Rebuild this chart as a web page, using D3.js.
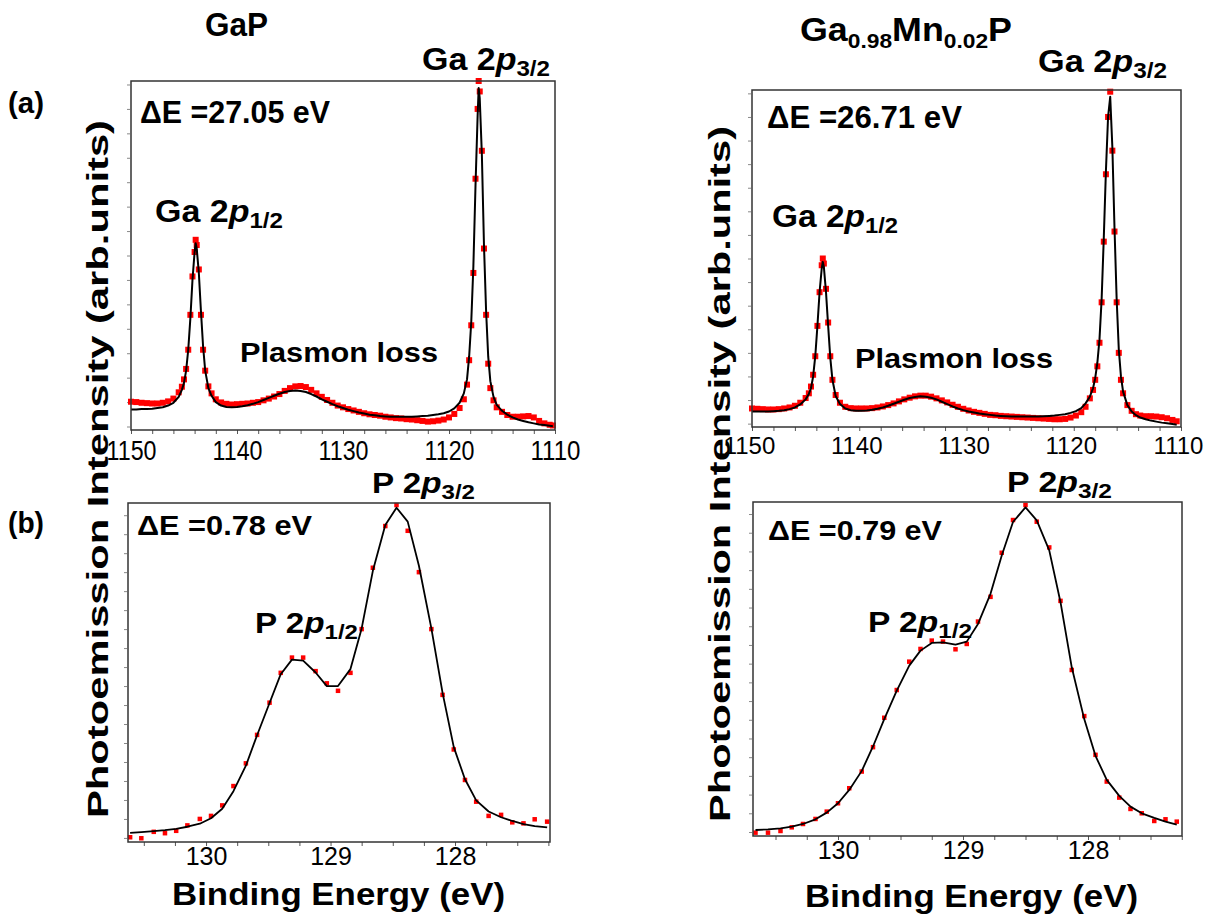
<!DOCTYPE html>
<html><head><meta charset="utf-8">
<script src="https://cdn.jsdelivr.net/npm/d3@7"></script>
<style>body{margin:0;background:#fff;} text{font-family:"Liberation Sans",Arial,sans-serif;}</style>
</head><body>
<svg id="c" width="1207" height="917"></svg>
<script>
// ---------- DATA ----------
// Ga 2p region, GaP (left)
const gaEL = [1150,1149.5,1149,1148.5,1148,1147.5,1147,1146.5,1146,
  1145.5,1145.2,1145.0,1144.8,1144.6,1144.4,1144.2,1144.0,1143.9,1143.8,1143.6,1143.4,1143.2,1143.0,1142.7,1142.4,1142.0,
  1141.5,1141,1140.5,1140,1139.5,1139,1138.5,1138,1137.5,1137,1136.5,1136,1135.5,1135,1134.5,1134,1133.5,1133,1132.5,1132,
  1131.5,1131,1130.5,1130,1129.5,1129,1128.5,1128,1127.5,1127,1126.5,1126,1125.5,1125,1124.5,1124,1123.5,1123,1122.5,1122,
  1121.5,1121,1120.5,1120,1119.5,
  1119.0,1118.6,1118.3,1118.1,1117.9,1117.7,1117.5,1117.3,1117.2,1117.1,1116.9,1116.7,1116.5,1116.3,1116.1,1115.8,1115.5,1115.0,
  1114.5,1114,1113.5,1113,1112.5,1112,1111.5,1111,1110.5,1110.2];
const gaDataL = [8.1,8.0,7.8,7.7,7.6,7.6,7.8,8.2,9.0,
  10.8,12.4,14.5,17.5,23,33,44,51,54.5,53,46,33,23,17,12.5,10.5,8.8,
  7.9,7.5,7.3,7.4,7.5,7.6,7.8,8.0,8.5,9.0,9.6,10.3,11.2,12.0,12.5,12.6,12.3,11.5,10.5,9.5,
  8.6,7.8,7.0,6.5,6.0,5.6,5.2,4.8,4.5,4.3,4.1,3.8,3.6,3.4,3.3,3.1,3.0,2.8,2.6,2.4,
  2.5,2.7,3.0,3.6,4.6,
  6.3,8.8,13.0,20,30,45,72,92,100,97,80,52,33,19,12,8.5,6.5,5.2,
  4.3,3.8,3.8,3.9,4.0,3.6,2.6,1.9,1.5,1.3];
const gaFitL = [5.9,5.9,6.0,6.0,6.1,6.3,6.5,7.0,7.8,
  9.5,11.5,13.5,17,23,32,43,51,53.5,52,45,34,24,17,12,9.8,8.0,
  7.0,6.6,6.5,6.6,6.8,7.1,7.5,8.0,8.6,9.2,9.8,10.4,10.9,11.2,11.3,11.2,10.9,10.3,9.6,8.8,
  8.1,7.4,6.8,6.3,5.8,5.4,5.0,4.7,4.4,4.2,4.0,3.9,3.8,3.8,3.8,3.8,3.8,3.9,4.0,4.1,
  4.3,4.5,4.8,5.3,6.2,
  7.8,10.5,14.5,21,31,47,70,90,98,95,79,53,34,21,14,9.5,7.2,5.5,
  4.4,3.6,3.0,2.6,2.2,1.9,1.6,1.4,1.2,1.1];

// Ga 2p region, Ga0.98Mn0.02P (right)
const gaER = [1150,1149.5,1149,1148.5,1148,1147.5,1147,1146.5,1146,1145.5,1145,
  1144.7,1144.5,1144.3,1144.1,1143.9,1143.7,1143.5,1143.4,1143.3,1143.1,1142.9,1142.7,1142.5,1142.2,1141.8,1141.3,1140.8,
  1140.3,1139.8,1139.3,1138.8,1138.3,1137.8,1137.3,1136.8,1136.3,1135.8,1135.3,1134.8,1134.3,1133.8,1133.3,1132.8,1132.3,1131.8,
  1131.3,1130.8,1130.3,1129.8,1129.3,1128.8,1128.3,1127.8,1127.3,1126.8,1126.3,1125.8,1125.3,1124.8,1124.3,1123.8,1123.3,1122.8,
  1122.3,1121.8,1121.3,1120.8,1120.3,1119.8,
  1119.3,1118.9,1118.5,1118.2,1118.0,1117.8,1117.6,1117.4,1117.2,1117.0,1116.8,1116.6,1116.4,1116.2,1116.0,1115.8,1115.6,1115.4,
  1115.0,1114.6,1114.2,1113.8,1113.3,1112.8,1112.3,1111.8,1111.3,1110.8,1110.4];
const gaDataR = [5.5,5.4,5.3,5.2,5.2,5.3,5.5,5.8,6.3,7.2,8.6,
  10,12,15.5,21,30,40,48,50,48.5,41,31,21,14,9.5,7.2,6.0,5.6,
  5.5,5.5,5.5,5.6,5.8,6.1,6.5,7.0,7.6,8.2,8.7,9.1,9.3,9.3,9.0,8.5,7.9,7.3,
  6.6,6.0,5.4,4.9,4.5,4.2,3.9,3.6,3.5,3.3,3.2,3.1,3.0,2.9,2.8,2.7,2.6,2.5,
  2.4,2.3,2.3,2.4,2.8,3.4,
  4.4,6.0,8.5,11,14,18,25,37,55,75,92,99.5,82,58,37,22,14,10,
  6.5,4.8,3.8,3.4,3.2,3.2,3.1,2.9,2.6,2.1,1.7];
const gaFitR = [4.6,4.6,4.6,4.6,4.7,4.8,5.0,5.3,5.8,6.7,8.2,
  9.8,11.5,15,21,30,40,47,49,47.5,40,30,20.5,14,9.2,6.8,5.5,5.0,
  4.8,4.8,4.9,5.1,5.4,5.8,6.3,6.9,7.5,8.1,8.6,8.9,9.1,9.0,8.7,8.2,7.5,6.8,
  6.1,5.5,5.0,4.6,4.3,4.0,3.8,3.6,3.4,3.3,3.2,3.1,3.1,3.1,3.1,3.1,3.1,3.2,
  3.3,3.4,3.6,3.8,4.2,4.7,
  5.6,7.0,9.0,11.5,14.5,19,26,38,56,76,92,98,83,59,38,23,15,10.5,
  6.5,4.6,3.5,2.8,2.3,1.9,1.6,1.3,1.1,0.9,0.7];

// P 2p region, GaP (left)
const pEL = [130.61,130.52,130.42,130.33,130.24,130.15,130.05,129.96,129.87,129.78,129.68,129.59,129.49,129.40,129.31,129.22,129.12,129.03,128.94,128.84,128.75,128.66,128.56,128.47,128.38,128.29,128.19,128.10,128.01,127.92,127.83,127.73,127.63,127.54,127.45,127.36,127.26];
const pDataL = [1.4,1.1,3.0,2.6,3.3,4.9,6.8,7.7,10.8,16.5,23.2,31.6,41.1,49.9,54.4,54.4,50.4,46.8,44.6,49.9,62.8,80.9,93.2,99.4,91.8,79.6,62.8,43.4,27.3,18.3,11.9,7.7,8.0,5.8,5.5,6.7,6.0];
const pFitL = [2.7,2.9,3.2,3.5,3.9,4.5,5.4,7.0,9.8,15.0,22.5,31.5,41.0,49.5,53.8,53.5,50.0,46.0,46.0,51.0,63.0,80.0,93.5,98.6,94.5,81.5,63.0,44.0,28.0,18.5,12.3,9.0,7.3,6.2,5.3,4.7,4.3];

// P 2p region, Ga0.98Mn0.02P (right)
const pER = [130.66,130.56,130.46,130.37,130.28,130.18,130.09,130.00,129.91,129.81,129.72,129.63,129.53,129.43,129.34,129.25,129.16,129.06,128.97,128.88,128.78,128.69,128.60,128.50,128.41,128.31,128.22,128.13,128.03,127.94,127.85,127.75,127.66,127.57,127.47,127.38,127.29];
const pDataR = [1.0,1.0,1.5,2.6,3.6,5.1,7.3,9.8,14.3,19.3,26.6,35.4,43.7,52.2,56.0,58.5,58.2,55.9,57.5,64.2,71.6,84.8,94.6,99.1,94.1,86.4,70.4,49.7,35.9,24.3,16.3,11.5,8.1,6.8,4.5,5.0,4.3];
const pFitR = [1.8,2.0,2.3,2.8,3.6,5.0,7.0,9.8,13.8,19.5,26.8,35.0,43.5,51.0,55.5,57.8,58.0,57.3,58.2,63.5,72.5,84.0,94.0,98.4,94.5,85.5,70.0,50.5,35.0,24.0,16.8,12.0,8.8,6.8,5.4,4.3,3.4];

// ticks
const gaTicks = [1110,1112,1114,1116,1118,1120,1122,1124,1126,1128,1130,1132,1134,1136,1138,1140,1142,1144,1146,1148,1150];
const gaTickLabels = [1110,1120,1130,1140,1150];
const pTicks = [127.25,127.5,127.75,128,128.25,128.5,128.75,129,129.25,129.5,129.75,130,130.25,130.5];
const pTickLabels = [128,129,130];
const yTicksA = [1,8,15,22,29,36,43,50,57,64,71,78,85,92,99];
const yTicksB = [1.2,6.8,12.4,18,23.6,29.2,34.8,40.4,46,51.6,57.2,62.8,68.4,74,79.6,85.2,90.8,96.4];

// text
const xTitle = "Binding Energy (eV)";
const yTitle = "Photoemission Intensity (arb.units)";

// ---------- DRAW ----------
const svg = d3.select("#c");

function panel(p) {
  const x = d3.scaleLinear().domain(p.xDomain).range([p.x0, p.x1]);
  const y = d3.scaleLinear().domain([0, 100]).range([p.y1, p.y0]);
  const g = svg.append("g");

  const ya = g.append("g").attr("transform", `translate(${p.x0 - 1},0)`)
    .call(d3.axisLeft(y).tickValues(p.yTicks).tickSize(3).tickFormat(""));
  ya.select(".domain").remove();
  ya.selectAll(".tick line").attr("stroke", "#888");

  const xa = g.append("g").attr("transform", `translate(0,${p.y1})`)
    .call(d3.axisBottom(x).tickValues(p.xTicks).tickSize(4).tickPadding(p.pad)
      .tickFormat(d => p.xLabels.includes(d) ? String(d) : ""));
  xa.select(".domain").remove();
  xa.selectAll(".tick line").attr("stroke", "#555");
  const tt = xa.selectAll(".tick text").attr("font-size", p.tickFs).attr("fill", "#000")
    .attr("font-family", '"Liberation Sans",Arial,sans-serif');
  if (p.tickDx) tt.attr("dx", p.tickDx);
  if (p.tickLen) tt.filter(d => p.xLabels.includes(d))
    .attr("textLength", p.tickLen).attr("lengthAdjust", "spacingAndGlyphs");

  const pts = d3.zip(p.E, p.data);
  g.append("g").selectAll("rect").data(pts).join("rect")
    .attr("x", d => x(d[0]) - p.ms / 2).attr("y", d => y(d[1]) - p.ms / 2)
    .attr("width", p.ms).attr("height", p.ms).attr("fill", "#ff0000");

  g.append("path").datum(d3.zip(p.E, p.fit))
    .attr("fill", "none").attr("stroke", "#000").attr("stroke-width", p.lw)
    .attr("stroke-linejoin", "round")
    .attr("d", d3.line().x(d => x(d[0])).y(d => y(d[1])));

  g.append("rect").attr("x", p.x0).attr("y", p.y0)
    .attr("width", p.x1 - p.x0).attr("height", p.y1 - p.y0)
    .attr("fill", "none").attr("stroke", "#333").attr("stroke-width", 1.5);
}

panel({x0:131, x1:555, y0:81, y1:430, xDomain:[1150,1110], E:gaEL, data:gaDataL, fit:gaFitL,
  xTicks:gaTicks, xLabels:gaTickLabels, yTicks:yTicksA, pad:6, tickFs:28, tickLen:50, ms:6, lw:2});
panel({x0:752, x1:1181, y0:90, y1:427, xDomain:[1150,1110], E:gaER, data:gaDataR, fit:gaFitR,
  xTicks:gaTicks, xLabels:gaTickLabels, yTicks:yTicksA, pad:6, tickFs:24, tickDx:-3, ms:6, lw:2});
panel({x0:128, x1:550, y0:503, y1:842, xDomain:[130.627,127.237], E:pEL, data:pDataL, fit:pFitL,
  xTicks:pTicks, xLabels:pTickLabels, yTicks:yTicksB, pad:1, tickFs:25, ms:4.5, lw:1.8});
panel({x0:753, x1:1182, y0:502, y1:836, xDomain:[130.68,127.248], E:pER, data:pDataR, fit:pFitR,
  xTicks:pTicks, xLabels:pTickLabels, yTicks:yTicksB, pad:1, tickFs:25, ms:4.5, lw:1.8});

function label(x, y, parts, o) {
  const t = svg.append("text").attr("x", x).attr("y", y)
    .attr("font-weight", "bold").attr("font-size", o.fs).attr("fill", "#000");
  if (o.len) t.attr("textLength", o.len).attr("lengthAdjust", "spacingAndGlyphs");
  if (o.rot) t.attr("transform", `rotate(-90,${x},${y})`);
  let shift = 0;
  parts.forEach(pt => {
    const s = t.append("tspan").text(pt.t);
    const target = pt.sub ? (o.subDy || 7) : 0;
    if (target - shift !== 0) s.attr("dy", target - shift);
    shift = target;
    if (pt.sub) s.attr("font-size", o.subFs || Math.round(o.fs * 0.68));
    if (pt.it) s.attr("font-style", "italic");
  });
  return t;
}
const ga32 = [{t:"Ga 2"},{t:"p", it:true},{t:"3/2", sub:true}];
const ga12 = [{t:"Ga 2"},{t:"p", it:true},{t:"1/2", sub:true}];
const p32 = [{t:"P 2"},{t:"p", it:true},{t:"3/2", sub:true}];
const p12 = [{t:"P 2"},{t:"p", it:true},{t:"1/2", sub:true}];

label(205, 36, [{t:"GaP"}], {fs:33, len:63});
label(800, 41, [{t:"Ga"},{t:"0.98", sub:true},{t:"Mn"},{t:"0.02", sub:true},{t:"P"}], {fs:33, subFs:21, subDy:7, len:212});
label(8, 113, [{t:"(a)"}], {fs:30, len:36});
label(8, 533, [{t:"(b)"}], {fs:30, len:36});

label(422, 70, ga32, {fs:31, subFs:22, subDy:6, len:128});
label(1038, 72, ga32, {fs:31, subFs:22, subDy:6, len:129});
label(155, 222, ga12, {fs:31, subFs:22, subDy:6, len:128});
label(772, 227, ga12, {fs:31, subFs:22, subDy:6, len:126});

label(140, 123, [{t:"ΔE =27.05 eV"}], {fs:32, len:190});
label(767, 128, [{t:"ΔE =26.71 eV"}], {fs:32, len:195});
label(137, 535, [{t:"ΔE =0.78 eV"}], {fs:28, len:175});
label(768, 540, [{t:"ΔE =0.79 eV"}], {fs:28, len:174});

label(240, 362, [{t:"Plasmon loss"}], {fs:27, len:198});
label(855, 368, [{t:"Plasmon loss"}], {fs:27, len:198});

label(372, 493, p32, {fs:29, subFs:21, subDy:6, len:103});
label(1007, 492, p32, {fs:29, subFs:21, subDy:6, len:105});
label(255, 633, p12, {fs:29, subFs:21, subDy:6, len:103});
label(868, 632, p12, {fs:29, subFs:21, subDy:6, len:104});

label(172, 905, [{t:xTitle}], {fs:31, len:333});
label(805, 907, [{t:xTitle}], {fs:31, len:333});

label(108, 818, [{t:yTitle}], {fs:30, len:698, rot:true});
label(730, 822, [{t:yTitle}], {fs:30, len:696, rot:true});
</script>
</body></html>
